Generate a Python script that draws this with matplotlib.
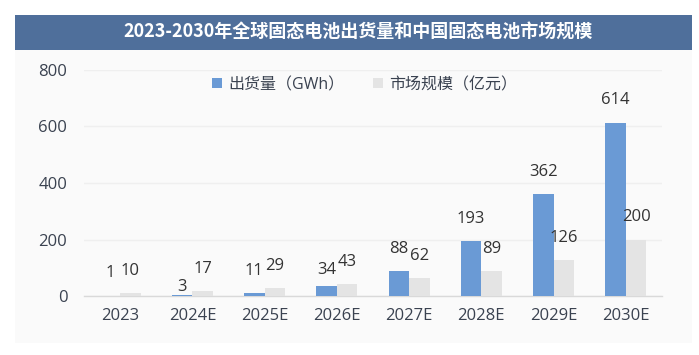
import matplotlib
matplotlib.use("Agg")
import matplotlib.pyplot as plt
from matplotlib.patches import Rectangle, Patch
import numpy as np

plt.rcParams['font.family'] = ['Open Sans', 'Noto Sans CJK SC', 'DejaVu Sans']

categories = ['2023', '2024E', '2025E', '2026E', '2027E', '2028E', '2029E', '2030E']
shipments = [1, 3, 11, 34, 88, 193, 362, 614]
market = [10, 17, 29, 43, 62, 89, 126, 200]
series_names = ['出货量（GWh）', '市场规模（亿元）']
title = '2023-2030年全球固态电池出货量和中国固态电池市场规模'
yticks = [0, 200, 400, 600, 800]

# label vertical nudges (points) for hand-placed labels
blue_nudge = [0, -10, 0, -4, 0, 0, 0, 0]
gray_nudge = [0, 0, 0, 0, 0, 0, 0, 0]

BLUE = '#6a9ad5'
GRAY = '#e4e4e4'
TXT = '#3a4250'

W, H = 699, 355
fig = plt.figure(figsize=(W / 100, H / 100), dpi=100)
fig.patch.set_facecolor('white')

# panel background
fig.add_artist(Rectangle((15 / W, 1 - 343 / H), (692 - 15) / W, (343 - 50) / H,
                         transform=fig.transFigure, facecolor='#fafafa', edgecolor='none', zorder=0))
# title bar
fig.add_artist(Rectangle((15 / W, 1 - 50 / H), (692 - 15) / W, (50 - 15) / H,
                         transform=fig.transFigure, facecolor='#4f6f9b', edgecolor='none', zorder=1))
fig.text(0.512, 1 - 32.5 / H, title, color='white', fontsize=13, fontweight='bold',
         family=['Noto Sans CJK SC', 'DejaVu Sans'],
         ha='center', va='center', zorder=2)

ax = fig.add_axes([84 / W, 1 - 296 / H, (662 - 84) / W, (296 - 70) / H])
ax.set_facecolor('none')
x = np.arange(len(categories))
bw = 0.285
b1 = ax.bar(x - bw / 2, shipments, bw, color=BLUE, zorder=3)
b2 = ax.bar(x + bw / 2, market, bw, color=GRAY, zorder=3)

for xi, v, dn in zip(x, shipments, blue_nudge):
    ax.annotate(str(v), (xi - bw / 2, v), xytext=(0, 16 + dn), textcoords='offset points',
                ha='center', va='center', fontsize=12, color='#333333')
for xi, v, dn in zip(x, market, gray_nudge):
    ax.annotate(str(v), (xi + bw / 2, v), xytext=(0, 16 + dn), textcoords='offset points',
                ha='center', va='center', fontsize=12, color='#333333')

ax.set_xlim(-0.5, len(categories) - 0.5)
ax.set_ylim(0, 800)
ax.set_yticks(yticks)
ax.set_xticks(x)
ax.set_xticklabels(categories)
ax.tick_params(axis='both', length=0, labelsize=12, labelcolor=TXT)
ax.tick_params(axis='x', pad=9)
ax.tick_params(axis='y', pad=12)
for s in ['top', 'right', 'left']:
    ax.spines[s].set_visible(False)
ax.spines['bottom'].set_color('#d9d9d9')
ax.spines['bottom'].set_linewidth(1)
ax.yaxis.grid(True, color='#efefef', linewidth=1, zorder=0)
ax.set_axisbelow(True)

handles = [Patch(facecolor=BLUE), Patch(facecolor=GRAY)]
fig.legend(handles, series_names, loc='center', bbox_to_anchor=(0.522, 1 - 85 / H), ncol=2,
           frameon=False, fontsize=11.5, handlelength=0.6, handleheight=0.6, handletextpad=0.4,
           columnspacing=1.8, labelcolor=TXT)

fig.savefig('out.png', dpi=100)
